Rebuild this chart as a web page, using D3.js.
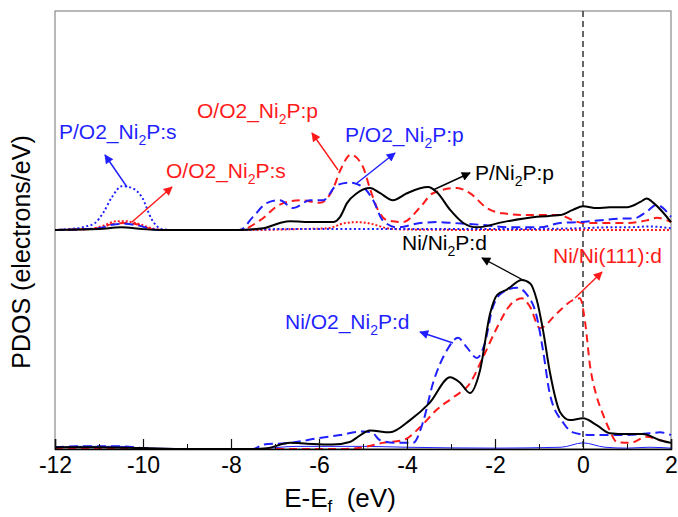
<!DOCTYPE html>
<html>
<head>
<meta charset="utf-8">
<style>
  body { margin: 0; background: #fff; }
  text { font-family: "Liberation Sans", Arial, sans-serif; }
</style>
<script src="https://d3js.org/d3.v7.min.js"></script>
</head>
<body>
<svg id="pdos" width="678" height="517"></svg>
<script>
// x ticks
const xMajor = [-12, -10, -8, -6, -4, -2, 0, 2];
const xMinor = [-11, -9, -7, -5, -3, -1, 1];

// top panel: [E, PDOS]
const pO2_s = [[-12,0],[-11.7,0.01],[-11.3,0.04],[-11.09,0.08],[-10.9,0.2],[-10.7,0.38],[-10.48,0.5],[-10.25,0.48],[-10.02,0.37],[-9.8,0.12],[-9.57,0.01],[-9.3,0],[-8,0],[-7,0.01],[-5.5,0.01],[-4,0.01],[-2,0.01],[0,0.02],[0.5,0.03],[1,0.03],[1.5,0.04],[2,0.02]];
const oO2_s = [[-12,0],[-11.2,0.01],[-10.9,0.05],[-10.6,0.1],[-10.4,0.1],[-10.1,0.07],[-9.8,0.02],[-9.5,0],[-7.5,0],[-6.5,0.01],[-5.8,0.02],[-5.4,0.08],[-5.1,0.09],[-4.8,0.07],[-4.45,0.02],[-4,0.005],[-2,0],[2,0]];
const oO2_p = [[-12,0],[-11,0.02],[-10.7,0.07],[-10.4,0.08],[-10.1,0.06],[-9.8,0.01],[-9.5,0],[-7.8,0],[-7.34,0.11],[-6.89,0.29],[-6.43,0.34],[-5.98,0.31],[-5.7,0.45],[-5.5,0.7],[-5.28,0.86],[-5.0,0.72],[-4.84,0.47],[-4.68,0.25],[-4.45,0.11],[-4.09,0.09],[-3.7,0.26],[-3.41,0.42],[-2.86,0.48],[-2.57,0.42],[-2.18,0.25],[-1.82,0.19],[-1.2,0.17],[-0.52,0.17],[-0.23,0.11],[0,0.08],[0.55,0.08],[1.0,0.08],[1.45,0.11],[1.68,0.14],[2.0,0.09]];
const pO2_p = [[-12,0],[-11,0.02],[-10.7,0.06],[-10.4,0.07],[-10.1,0.05],[-9.8,0.01],[-9.5,0],[-7.8,0],[-7.5,0.15],[-7.18,0.31],[-6.89,0.34],[-6.59,0.25],[-6.2,0.34],[-5.9,0.34],[-5.6,0.51],[-5.3,0.54],[-5.0,0.49],[-4.77,0.34],[-4.55,0.11],[-4.23,0.03],[-3.7,0.08],[-3.32,0.09],[-2.95,0.08],[-2.34,0.06],[-1.66,0.03],[-0.98,0.03],[-0.52,0.08],[-0.07,0.09],[0.39,0.11],[0.84,0.13],[1.14,0.13],[1.45,0.21],[1.68,0.29],[1.82,0.25],[2.0,0.15]];
const pNi2P_p = [[-12,0],[-11,0.01],[-10.5,0.03],[-10,0.01],[-9.5,0],[-7.86,0],[-7.27,0.02],[-6.89,0.08],[-6.66,0.1],[-6.14,0.09],[-5.68,0.09],[-5.52,0.15],[-5.36,0.31],[-5.14,0.42],[-4.84,0.48],[-4.61,0.42],[-4.32,0.34],[-4.0,0.42],[-3.52,0.49],[-3.32,0.43],[-3.02,0.23],[-2.72,0.08],[-2.41,0.03],[-1.82,0.09],[-1.05,0.15],[-0.52,0.17],[-0.23,0.23],[0,0.27],[0.32,0.25],[0.61,0.26],[1.0,0.26],[1.3,0.32],[1.45,0.36],[1.6,0.31],[1.82,0.2],[2.0,0.09]];

// bottom panel: [E, PDOS]
const niNi2P_d = [[-12,0.02],[-11,0.02],[-10,0.01],[-9,0],[-7.5,0],[-7.18,0.01],[-6.66,0.07],[-6.27,0.06],[-5.7,0.05],[-5.3,0.08],[-5.14,0.13],[-4.84,0.21],[-4.39,0.19],[-3.93,0.33],[-3.48,0.53],[-3.02,0.82],[-2.8,0.76],[-2.57,0.64],[-2.34,0.9],[-2.11,1.55],[-1.95,1.76],[-1.73,1.82],[-1.39,1.93],[-1.2,1.89],[-1.05,1.7],[-0.91,1.36],[-0.75,0.87],[-0.52,0.42],[-0.3,0.33],[0,0.35],[0.32,0.27],[0.61,0.18],[1.0,0.17],[1.36,0.17],[1.75,0.1],[2.0,0.07]];
const niO2_d = [[-12,0.02],[-11.5,0.03],[-10.5,0.03],[-10,0.01],[-9.5,0],[-7.5,0],[-7.27,0.05],[-6.66,0.07],[-6.05,0.12],[-5.52,0.16],[-5.0,0.2],[-4.8,0.19],[-4.61,0.1],[-4.23,0.07],[-3.86,0.07],[-3.64,0.3],[-3.41,0.75],[-3.09,1.13],[-2.84,1.27],[-2.64,1.16],[-2.41,1.04],[-2.23,1.21],[-2.05,1.62],[-1.82,1.79],[-1.5,1.84],[-1.27,1.76],[-1.05,1.51],[-0.91,1.13],[-0.75,0.62],[-0.45,0.3],[-0.23,0.19],[0.16,0.16],[0.91,0.16],[1.52,0.18],[1.75,0.19],[2.0,0.16]];
const niNi111_d = [[-12,0],[-5.5,0],[-5.0,0.02],[-4.55,0.07],[-4.09,0.1],[-3.7,0.25],[-3.32,0.45],[-2.95,0.59],[-2.57,0.75],[-2.27,1.05],[-1.95,1.39],[-1.66,1.64],[-1.39,1.72],[-1.2,1.62],[-0.98,1.38],[-0.59,1.55],[-0.23,1.7],[-0.07,1.72],[0.05,1.44],[0.16,0.95],[0.3,0.62],[0.45,0.4],[0.6,0.22],[0.77,0.08],[1.07,0.07],[1.45,0.14],[1.75,0.1],[2.0,0.07]];
const niO2_s = [[-12,0.01],[-11.5,0.03],[-10.5,0.03],[-10,0.01],[-7.5,0],[-6.5,0.03],[-5,0.03],[-4,0.02],[-2,0.01],[-0.5,0.02],[0,0.07],[0.5,0.02],[1,0.01],[1.5,0.02],[2,0.01]];

// labels: "~" marks the subscript
const labels = [
  {t: "P/O2_Ni~2~P:s", c: "#1f1fff", x: 59, y: 139, a: [127,187,105,155]},
  {t: "O/O2_Ni~2~P:s", c: "#ff1a1a", x: 166, y: 178, a: [132,222,172,187]},
  {t: "O/O2_Ni~2~P:p", c: "#ff1a1a", x: 197, y: 118, a: [338,170,312,133]},
  {t: "P/O2_Ni~2~P:p", c: "#1f1fff", x: 345, y: 142, a: [357,183,395,153]},
  {t: "P/Ni~2~P:p", c: "#000", x: 475, y: 180, a: [433,190,470,173]},
  {t: "Ni/Ni~2~P:d", c: "#000", x: 402, y: 250, a: [523,280,482,258]},
  {t: "Ni/Ni(111):d", c: "#ff1a1a", x: 553, y: 263, a: [575,298,602,272]},
  {t: "Ni/O2_Ni~2~P:d", c: "#1f1fff", x: 285, y: 329, a: [453,343,420,332]}
];

const svg = d3.select("svg#pdos");
const margin = {top: 11, right: 7, bottom: 68, left: 55};
const width = 678 - margin.left - margin.right;
const mid = 230;

const x = d3.scaleLinear().domain([-12, 2]).range([margin.left, margin.left + width]);
const yTop = d3.scaleLinear().domain([0, 2.5]).range([mid, mid - 219]);
const yBot = d3.scaleLinear().domain([0, 2.5]).range([449, 449 - 219]);

// frame
svg.append("rect")
  .attr("x", margin.left).attr("y", margin.top)
  .attr("width", width).attr("height", 449 - margin.top)
  .attr("fill", "none").attr("stroke", "#8a8a8a").attr("stroke-width", 1.2);

// Fermi level
svg.append("line")
  .attr("x1", x(0)).attr("x2", x(0)).attr("y1", margin.top).attr("y2", 449)
  .attr("stroke", "#333").attr("stroke-width", 1.5).attr("stroke-dasharray", "6,4");

const blue = "#1f1fff", red = "#ff1a1a";

function draw(data, yScale, color, dash, w) {
  const line = d3.line()
    .x(d => x(d[0]))
    .y(d => yScale(d[1]))
    .curve(d3.curveMonotoneX);
  svg.append("path")
    .datum(data)
    .attr("d", line)
    .attr("fill", "none")
    .attr("stroke", color)
    .attr("stroke-width", w)
    .attr("stroke-dasharray", dash);
}

// bottom panel
draw(niO2_s, yBot, blue, null, 1);
draw(niNi111_d, yBot, red, "8,5", 2);
draw(niO2_d, yBot, blue, "9,5", 2);
draw(niNi2P_d, yBot, "#000", null, 2);

// top panel
draw(oO2_s, yTop, red, "2,2", 2);
draw(pO2_s, yTop, blue, "2,2.5", 2);
draw(oO2_p, yTop, red, "8,5", 2);
draw(pO2_p, yTop, blue, "9,5", 2);
draw(pNi2P_p, yTop, "#000", null, 2);

// axis
let bottomAxis = d3.axisBottom(x).tickValues(xMajor).tickSize(-10).tickPadding(8).tickFormat(d => String(d));
let minorAxis = d3.axisBottom(x).tickValues(xMinor).tickSize(-5).tickFormat("");

svg.append("g").attr("transform", "translate(0,449)").call(minorAxis)
  .call(g => g.select(".domain").remove());
let ax = svg.append("g").attr("transform", "translate(0,449)").call(bottomAxis);
ax.select(".domain").attr("stroke-width", 1.5);
ax.selectAll(".tick line").attr("stroke-width", 1.2);
ax.selectAll("text").attr("font-size", 23).attr("font-family", "Liberation Sans, Arial, sans-serif");
svg.selectAll(".tick line").attr("stroke", "#111");

// annotations
svg.append("defs").selectAll("marker")
  .data(["#1f1fff", "#ff1a1a", "#000"])
  .enter().append("marker")
  .attr("id", (d, i) => "ah" + i)
  .attr("viewBox", "0 0 10 10")
  .attr("refX", 9).attr("refY", 5)
  .attr("markerWidth", 11).attr("markerHeight", 9)
  .attr("markerUnits", "userSpaceOnUse")
  .attr("orient", "auto")
  .append("path").attr("d", "M0,0 L10,5 L0,10 z").attr("fill", d => d);

const markerIdx = {"#1f1fff": 0, "#ff1a1a": 1, "#000": 2};

labels.forEach(l => {
  svg.append("line")
    .attr("x1", l.a[0]).attr("y1", l.a[1]).attr("x2", l.a[2]).attr("y2", l.a[3])
    .attr("stroke", l.c).attr("stroke-width", 1.4)
    .attr("marker-end", "url(#ah" + markerIdx[l.c] + ")");
  let t = svg.append("text").attr("x", l.x).attr("y", l.y).attr("fill", l.c).attr("font-size", 21);
  l.t.split("~").forEach((s, i) => {
    if (i % 2 == 1) {
      t.append("tspan").attr("dy", 6).attr("font-size", 14).text(s);
    } else {
      t.append("tspan").attr("dy", i == 0 ? 0 : -6).text(s);
    }
  });
});

// axis titles
let xt = svg.append("text")
  .attr("x", 340).attr("y", 507)
  .attr("text-anchor", "middle")
  .attr("font-size", 26)
  .attr("xml:space", "preserve");
xt.append("tspan").text("E-E");
xt.append("tspan").attr("dy", 5).attr("font-size", 17).text("f");
xt.append("tspan").attr("dy", -5).text("  (eV)");

svg.append("text")
  .attr("transform", "translate(30,252) rotate(-90)")
  .attr("text-anchor", "middle")
  .attr("font-size", 25)
  .text("PDOS (electrons/eV)");
</script>
</body>
</html>
